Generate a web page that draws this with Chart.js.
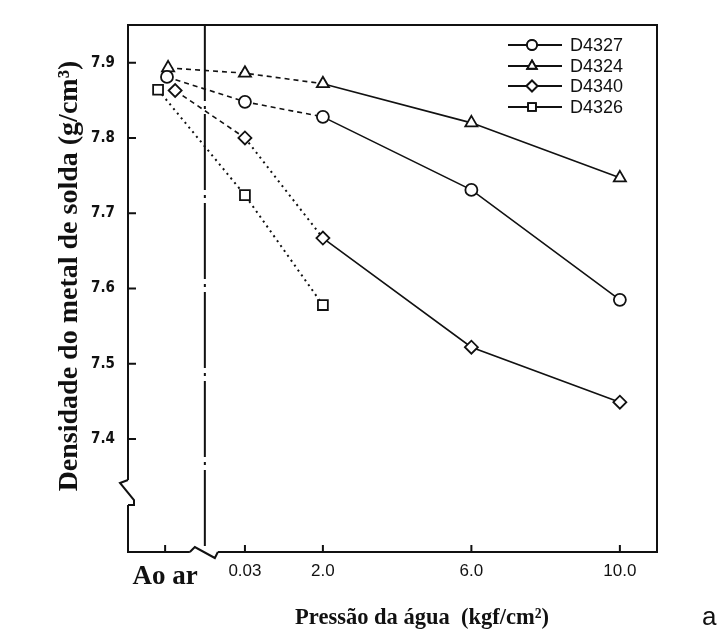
<!DOCTYPE html>
<html>
<head>
<meta charset="utf-8">
<script src="https://cdn.jsdelivr.net/npm/chart.js@4/dist/chart.umd.min.js"></script>
<style>
  html, body { margin: 0; padding: 0; background: #fff; }
  #wrap { width: 725px; height: 642px; }
</style>
</head>
<body>
<div id="wrap"><canvas id="c" width="725" height="642"></canvas></div>
<script>
// Weld metal density vs. water pressure, four electrode types
const pressureLabels = ['Ao ar', '0.03', '2.0', '6.0', '10.0'];
const seriesNames = ['D4327', 'D4324', 'D4340', 'D4326'];
const d4327 = [7.881, 7.848, 7.828, 7.731, 7.585];
const d4324 = [7.893, 7.886, 7.872, 7.820, 7.747];
const d4340 = [7.863, 7.800, 7.667, 7.522, 7.449];
const d4326 = [7.864, 7.724, 7.578, null, null];
const densityTicks = [7.4, 7.5, 7.6, 7.7, 7.8, 7.9];

const INK = '#111';

// Broken x axis: "in air" and 0.03 sit in a compressed section left of the break,
// from 2.0 onward the axis is to scale.
const compressedSlots = { 'Ao ar': -2.25, '0.03': -0.1 };
function slotOf(i) {
  const l = pressureLabels[i];
  return (l in compressedSlots) ? compressedSlots[l] : parseFloat(l);
}
const BREAK_LINE_AT = -1.18;

// Per-series drawing style
const seriesStyle = [
  { point: 'circle',   radius: 6,   legendRadius: 5,   airNudge: 0.05,  segments: ['dash', 'dash', 'solid', 'solid'] },
  { point: 'triangle', radius: 7,   legendRadius: 5.5, airNudge: 0.08,  segments: ['dash', 'dash', 'solid', 'solid'] },
  { point: 'rectRot',  radius: 6.5, legendRadius: 5.5, airNudge: 0.27,  segments: ['dash', 'dot',  'solid', 'solid'] },
  { point: 'rect',     radius: 7,   legendRadius: 5.5, airNudge: -0.19, segments: ['dot',  'dot',  'solid', 'solid'] }
];
const dashPatterns = { solid: [], dash: [5, 4], dot: [2, 4] };
const seriesValues = [d4327, d4324, d4340, d4326];

const datasets = seriesNames.map((name, s) => {
  const st = seriesStyle[s];
  return {
    label: name,
    data: seriesValues[s].map((v, i) => ({ x: slotOf(i) + (i === 0 ? st.airNudge : 0), y: v })),
    borderColor: INK,
    borderWidth: 1.6,
    pointStyle: st.point,
    pointRadius: st.radius,
    pointBackgroundColor: '#fff',
    pointBorderColor: INK,
    pointBorderWidth: 1.8,
    spanGaps: false,
    segment: {
      borderDash: ctx => dashPatterns[st.segments[ctx.p0DataIndex]] || [],
      borderWidth: ctx => st.segments[ctx.p0DataIndex] === 'dot' ? 2 : 1.6
    }
  };
});

// Frame, inward tick marks, axis breaks, dash-dot separator, legend and titles
const decorations = {
  id: 'decorations',
  afterDraw(chart) {
    const { ctx, chartArea: a, scales: { x, y } } = chart;
    ctx.save();
    ctx.strokeStyle = INK;
    ctx.fillStyle = INK;
    ctx.lineWidth = 2;
    ctx.setLineDash([]);

    // top and right frame
    ctx.beginPath();
    ctx.moveTo(a.left, a.top);
    ctx.lineTo(a.right, a.top);
    ctx.lineTo(a.right, a.bottom);
    ctx.stroke();

    // inward tick marks
    ctx.beginPath();
    y.ticks.forEach(t => {
      const py = y.getPixelForValue(t.value);
      ctx.moveTo(a.left, py); ctx.lineTo(a.left + 8, py);
    });
    x.ticks.forEach(t => {
      const px = x.getPixelForValue(t.value);
      ctx.moveTo(px, a.bottom); ctx.lineTo(px, a.bottom - 7);
    });
    ctx.stroke();

    // dash-dot separator between "in air" and water
    const sx = x.getPixelForValue(BREAK_LINE_AT);
    ctx.setLineDash([76, 5, 3, 5]);
    ctx.beginPath();
    ctx.moveTo(sx, a.top);
    ctx.lineTo(sx, a.bottom);
    ctx.stroke();
    ctx.setLineDash([]);

    // y axis break
    const yb0 = a.bottom - 72, yb1 = a.bottom - 47;
    ctx.fillStyle = '#fff';
    ctx.fillRect(a.left - 3, yb0, 6, yb1 - yb0);
    ctx.beginPath();
    ctx.moveTo(a.left, yb0);
    ctx.lineTo(a.left - 8, yb0 + 3);
    ctx.lineTo(a.left + 6, yb1 - 5);
    ctx.lineTo(a.left + 6, yb1);
    ctx.lineTo(a.left, yb1);
    ctx.stroke();

    // x axis break
    const xb0 = sx - 15, xb1 = sx + 13;
    ctx.fillRect(xb0, a.bottom - 3, xb1 - xb0, 6);
    ctx.beginPath();
    ctx.moveTo(xb0, a.bottom);
    ctx.lineTo(xb0 + 5, a.bottom - 5);
    ctx.lineTo(xb1 - 3, a.bottom + 6);
    ctx.lineTo(xb1, a.bottom);
    ctx.stroke();

    // legend
    ctx.fillStyle = INK;
    const legendRows = [45, 66, 86, 107];
    ctx.font = '18px "Liberation Sans", Arial, sans-serif';
    ctx.textAlign = 'left';
    ctx.textBaseline = 'middle';
    chart.data.datasets.forEach((ds, s) => {
      const ly = legendRows[s];
      ctx.lineWidth = 1.8;
      ctx.beginPath();
      ctx.moveTo(508, ly); ctx.lineTo(562, ly);
      ctx.stroke();
      ctx.fillStyle = '#fff';
      Chart.helpers.drawPoint(ctx, {
        pointStyle: seriesStyle[s].point,
        radius: seriesStyle[s].legendRadius,
        borderWidth: 1.8
      }, 532, ly);
      ctx.fill();
      ctx.stroke();
      ctx.fillStyle = INK;
      ctx.fillText(ds.label, 570, ly + 1);
    });

    // axis titles
    ctx.font = 'bold 28px "Liberation Serif", "Times New Roman", serif';
    ctx.textAlign = 'center';
    ctx.textBaseline = 'alphabetic';
    ctx.save();
    ctx.translate(77, 276);
    ctx.rotate(-Math.PI / 2);
    ctx.fillText('Densidade do metal de solda (g/cm³)', 0, 0);
    ctx.restore();

    ctx.font = 'bold 22.5px "Liberation Serif", "Times New Roman", serif';
    ctx.fillText('Pressão da água  (kgf/cm²)', 422, 624);

    ctx.font = '26px "Liberation Sans", Arial, sans-serif';
    ctx.textAlign = 'left';
    ctx.fillText('a', 702, 625);
    ctx.restore();
  }
};

new Chart(document.getElementById('c'), {
  type: 'line',
  data: { datasets },
  options: {
    responsive: false,
    animation: false,
    devicePixelRatio: 1,
    layout: { padding: { top: 25, right: 68, left: 0, bottom: 0 } },
    plugins: { legend: { display: false }, tooltip: { enabled: false } },
    scales: {
      x: {
        type: 'linear',
        min: -3.25,
        max: 11,
        afterBuildTicks: scale => { scale.ticks = pressureLabels.map((_, i) => ({ value: slotOf(i) })); },
        afterFit: scale => { scale.height = 90; },
        grid: { drawOnChartArea: false, drawTicks: false },
        border: { display: true, color: INK, width: 2 },
        ticks: {
          autoSkip: false,
          maxRotation: 0,
          padding: 9,
          color: INK,
          callback: (v, i) => pressureLabels[i],
          font: ctx => ctx.index === 0
            ? { family: '"Liberation Serif", "Times New Roman", serif', size: 27, weight: 'bold' }
            : { family: '"Liberation Sans", Arial, sans-serif', size: 17 }
        }
      },
      y: {
        type: 'linear',
        min: 7.25,
        max: 7.95,
        afterBuildTicks: scale => { scale.ticks = densityTicks.map(v => ({ value: v })); },
        afterFit: scale => { scale.width = 128; },
        grid: { drawOnChartArea: false, drawTicks: false },
        border: { display: true, color: INK, width: 2 },
        ticks: {
          padding: 13,
          color: INK,
          callback: v => v.toFixed(1),
          font: { family: '"Liberation Sans Narrow", "DejaVu Sans Condensed", sans-serif', size: 15, weight: 'bold' }
        }
      }
    }
  },
  plugins: [decorations]
});
</script>
</body>
</html>
